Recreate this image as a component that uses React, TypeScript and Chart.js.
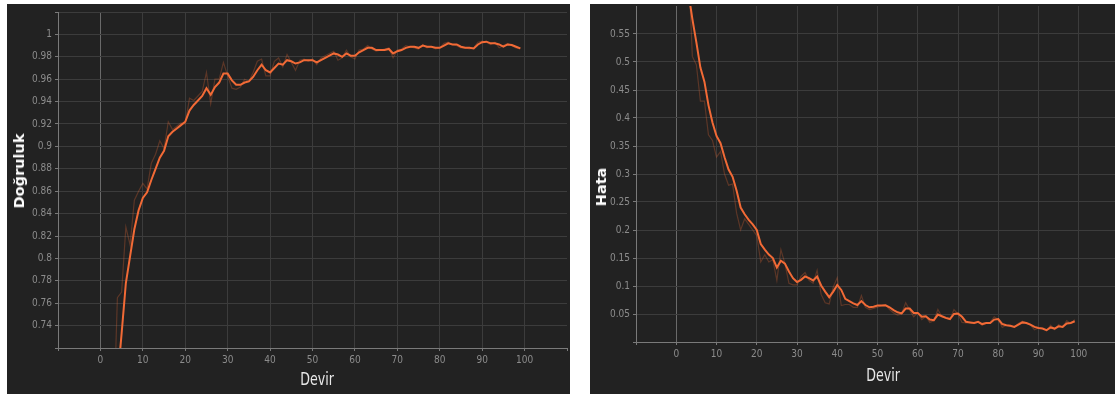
import React, { useEffect, useRef } from "react";
import { Chart, registerables } from "chart.js";

Chart.register(...registerables);

// Epoch index (x categories)
const epochs: number[] = Array.from({ length: 99 }, (_, i) => i + 1);

// Doğruluk (accuracy) – smoothed and raw
const accSmooth: number[] = [
  0.5, 0.56, 0.63, 0.69, 0.733, 0.778, 0.802, 0.826, 0.843, 0.854,
  0.859, 0.87, 0.88, 0.89, 0.896, 0.909, 0.913, 0.916, 0.919, 0.922,
  0.932, 0.937, 0.941, 0.945, 0.952, 0.946, 0.953, 0.957, 0.965, 0.965,
  0.959, 0.955, 0.955, 0.957, 0.958, 0.962, 0.968, 0.973, 0.968, 0.966,
  0.97, 0.974, 0.973, 0.977, 0.976, 0.974, 0.975, 0.977, 0.977, 0.977,
  0.975, 0.977, 0.979, 0.981, 0.983, 0.982, 0.98, 0.983, 0.981, 0.981,
  0.984, 0.986, 0.988, 0.988, 0.986, 0.986, 0.986, 0.987, 0.983, 0.985,
  0.986, 0.988, 0.989, 0.989, 0.988, 0.99, 0.989, 0.989, 0.988, 0.988,
  0.99, 0.992, 0.991, 0.991, 0.989, 0.988, 0.988, 0.9875, 0.991, 0.993,
  0.9935, 0.992, 0.992, 0.991, 0.989, 0.991, 0.9905, 0.989, 0.9875,
];
const accRaw: number[] = [
  0.5, 0.58, 0.64, 0.765, 0.77, 0.828, 0.812, 0.852, 0.86, 0.867,
  0.862, 0.885, 0.893, 0.905, 0.898, 0.922, 0.915, 0.918, 0.921, 0.92,
  0.943, 0.941, 0.945, 0.949, 0.966, 0.938, 0.96, 0.96, 0.975, 0.963,
  0.952, 0.951, 0.953, 0.96, 0.958, 0.966, 0.976, 0.978, 0.963, 0.963,
  0.976, 0.979, 0.971, 0.982, 0.975, 0.968, 0.977, 0.978, 0.976, 0.978,
  0.973, 0.979, 0.981, 0.983, 0.985, 0.977, 0.979, 0.986, 0.98, 0.978,
  0.986, 0.987, 0.99, 0.987, 0.985, 0.986, 0.987, 0.988, 0.979, 0.986,
  0.987, 0.99, 0.989, 0.988, 0.987, 0.991, 0.988, 0.989, 0.987, 0.988,
  0.992, 0.993, 0.991, 0.99, 0.988, 0.988, 0.987, 0.988, 0.993, 0.994,
  0.993, 0.991, 0.993, 0.988, 0.99, 0.992, 0.99, 0.988, 0.987,
];

// Hata (loss) – smoothed and raw
const lossSmooth: number[] = [
  0.75, 0.68, 0.625, 0.577, 0.535, 0.49, 0.465, 0.423, 0.392, 0.368,
  0.355, 0.33, 0.308, 0.295, 0.27, 0.24, 0.228, 0.218, 0.21, 0.2,
  0.175, 0.165, 0.156, 0.15, 0.133, 0.145, 0.14, 0.126, 0.114, 0.107,
  0.111, 0.117, 0.114, 0.11, 0.117, 0.101, 0.09, 0.08, 0.09, 0.102,
  0.093, 0.077, 0.073, 0.069, 0.066, 0.073, 0.066, 0.062, 0.063, 0.065,
  0.065, 0.0655, 0.062, 0.057, 0.053, 0.051, 0.0596, 0.0596, 0.052, 0.052,
  0.045, 0.046, 0.04, 0.039, 0.049, 0.046, 0.043, 0.041, 0.05, 0.051,
  0.045, 0.036, 0.035, 0.034, 0.036, 0.032, 0.034, 0.034, 0.04, 0.041,
  0.032, 0.03, 0.029, 0.027, 0.031, 0.035, 0.034, 0.031, 0.027, 0.025,
  0.024, 0.021, 0.026, 0.024, 0.028, 0.027, 0.033, 0.034, 0.037,
];
const lossRaw: number[] = [
  0.82, 0.74, 0.68, 0.51, 0.495, 0.43, 0.43, 0.37, 0.36, 0.33,
  0.34, 0.3, 0.28, 0.282, 0.23, 0.2, 0.22, 0.21, 0.2, 0.19,
  0.143, 0.156, 0.143, 0.147, 0.11, 0.165, 0.14, 0.105, 0.102, 0.102,
  0.117, 0.124, 0.11, 0.105, 0.128, 0.085, 0.07, 0.068, 0.098, 0.115,
  0.065, 0.067, 0.067, 0.062, 0.062, 0.083, 0.062, 0.058, 0.06, 0.062,
  0.065, 0.066, 0.058, 0.052, 0.048, 0.05, 0.07, 0.057, 0.045, 0.052,
  0.04, 0.046, 0.035, 0.038, 0.058, 0.045, 0.042, 0.04, 0.058, 0.05,
  0.035, 0.034, 0.035, 0.033, 0.036, 0.03, 0.034, 0.035, 0.045, 0.04,
  0.026, 0.03, 0.028, 0.027, 0.033, 0.037, 0.034, 0.03, 0.022, 0.025,
  0.024, 0.02, 0.03, 0.022, 0.031, 0.026, 0.038, 0.033, 0.04,
];

// Axis ticks
const xTicks: number[] = [-10, 0, 10, 20, 30, 40, 50, 60, 70, 80, 90, 100, 110];
const xTickLabels: number[] = [0, 10, 20, 30, 40, 50, 60, 70, 80, 90, 100];
const accTicks: number[] = [
  0.72, 0.74, 0.76, 0.78, 0.8, 0.82, 0.84, 0.86, 0.88, 0.9, 0.92, 0.94, 0.96, 0.98, 1, 1.02,
];
const lossTicks: number[] = [0, 0.05, 0.1, 0.15, 0.2, 0.25, 0.3, 0.35, 0.4, 0.45, 0.5, 0.55];

const TICK_FONT = "'Liberation Sans Narrow', 'DejaVu Sans Condensed', 'Roboto Condensed', sans-serif";
const GRID = "#3c3c3c";
const ZERO = "#6a6a6a";
const AXIS = "#7a7a7a";
const TICK_TXT = "#8c8c8c";
const LINE = "#f26a36";
const LINE_RAW = "rgba(242,106,54,0.28)";

type PanelProps = {
  left: number;
  top: number;
  width: number;
  height: number;
  canvasWidth: number;
  plotLeft: number;
  plotTop: number;
  plotBottom: number;
  rightPad: number;
  yMin: number;
  yMax: number;
  yTicks: number[];
  smooth: number[];
  raw: number[];
};

function Panel(p: PanelProps) {
  const ref = useRef<HTMLCanvasElement>(null);
  useEffect(() => {
    const fmt = (v: number) => String(Number(v.toFixed(2)));
    const chart = new Chart(ref.current as HTMLCanvasElement, {
      type: "line",
      data: {
        datasets: [
          {
            data: p.smooth.map((y, i) => ({ x: epochs[i], y })),
            borderColor: LINE,
            borderWidth: 2,
            pointRadius: 0,
            tension: 0,
            order: 0,
          },
          {
            data: p.raw.map((y, i) => ({ x: epochs[i], y })),
            borderColor: LINE_RAW,
            borderWidth: 1.2,
            pointRadius: 0,
            tension: 0,
            order: 1,
          },
        ],
      },
      options: {
        animation: false,
        responsive: false,
        events: [],
        layout: { padding: { left: 0, right: p.rightPad, top: p.plotTop, bottom: 0 } },
        plugins: { legend: { display: false }, tooltip: { enabled: false } },
        scales: {
          x: {
            type: "linear",
            min: -10,
            max: 110,
            afterBuildTicks: (s: any) => {
              s.ticks = xTicks.map((value) => ({ value }));
            },
            afterFit: (s: any) => {
              s.height = p.height - p.plotBottom;
              s.paddingLeft = 0;
              s.paddingRight = 0;
            },
            ticks: {
              autoSkip: false,
              maxRotation: 0,
              padding: 3,
              color: TICK_TXT,
              font: { family: TICK_FONT, size: 10 },
              callback: (v: any) => (xTickLabels.includes(Number(v)) ? String(v) : ""),
            },
            grid: {
              color: (ctx: any) =>
                ctx.tick && ctx.tick.value === 0
                  ? ZERO
                  : ctx.tick && ctx.tick.value === 110
                  ? "rgba(0,0,0,0)"
                  : GRID,
              tickLength: 3,
              tickColor: AXIS,
            },
            border: { color: AXIS, width: 1 },
          },
          y: {
            type: "linear",
            min: p.yMin,
            max: p.yMax,
            afterBuildTicks: (s: any) => {
              s.ticks = p.yTicks.map((value) => ({ value }));
            },
            afterFit: (s: any) => {
              s.width = p.plotLeft;
              s.paddingTop = 0;
              s.paddingBottom = 0;
            },
            ticks: {
              autoSkip: false,
              padding: 3,
              color: TICK_TXT,
              font: { family: TICK_FONT, size: 10 },
              callback: (v: any) =>
                Number(v) === p.yMin || Number(v) === p.yMax ? "" : fmt(Number(v)),
            },
            grid: { color: GRID, tickLength: 3, tickColor: AXIS },
            border: { color: AXIS, width: 1 },
          },
        },
      },
    });
    return () => chart.destroy();
  }, []);
  return (
    <div
      style={{
        position: "absolute",
        left: p.left,
        top: p.top,
        width: p.width,
        height: p.height,
        background: "#222222",
        overflow: "hidden",
      }}
    >
      <canvas
        ref={ref}
        width={p.canvasWidth}
        height={p.height}
        style={{ width: p.canvasWidth, height: p.height, display: "block" }}
      />
    </div>
  );
}

const titleBase: React.CSSProperties = {
  position: "absolute",
  whiteSpace: "nowrap",
  lineHeight: 1,
  transformOrigin: "center center",
};

export default function App() {
  return (
    <div
      style={{
        position: "fixed",
        left: 0,
        top: 0,
        width: 1115,
        height: 394,
        background: "#ffffff",
        overflow: "hidden",
      }}
    >
      <Panel
        left={7}
        top={4}
        width={563}
        height={390}
        canvasWidth={563}
        plotLeft={51}
        plotTop={8}
        plotBottom={344}
        rightPad={3}
        yMin={0.72}
        yMax={1.02}
        yTicks={accTicks}
        smooth={accSmooth}
        raw={accRaw}
      />
      <Panel
        left={590}
        top={4}
        width={525}
        height={390}
        canvasWidth={535}
        plotLeft={46}
        plotTop={2}
        plotBottom={338}
        rightPad={6}
        yMin={0}
        yMax={0.6}
        yTicks={lossTicks}
        smooth={lossSmooth}
        raw={lossRaw}
      />
      <div
        style={{
          ...titleBase,
          left: 19,
          top: 170.5,
          transform: "translate(-50%, -50%) rotate(-90deg)",
          font: "bold 14.5px 'DejaVu Sans', sans-serif",
          color: "#ffffff",
        }}
      >
        Doğruluk
      </div>
      <div
        style={{
          ...titleBase,
          left: 601,
          top: 186.5,
          transform: "translate(-50%, -50%) rotate(-90deg)",
          font: "bold 14.5px 'DejaVu Sans', sans-serif",
          color: "#ffffff",
        }}
      >
        Hata
      </div>
      <div
        style={{
          ...titleBase,
          left: 317,
          top: 377.5,
          transform: "translate(-50%, -50%) scaleX(0.78)",
          font: `18px ${TICK_FONT}`,
          color: "#e8e8e8",
        }}
      >
        Devir
      </div>
      <div
        style={{
          ...titleBase,
          left: 882.5,
          top: 373.5,
          transform: "translate(-50%, -50%) scaleX(0.78)",
          font: `18px ${TICK_FONT}`,
          color: "#e8e8e8",
        }}
      >
        Devir
      </div>
    </div>
  );
}
